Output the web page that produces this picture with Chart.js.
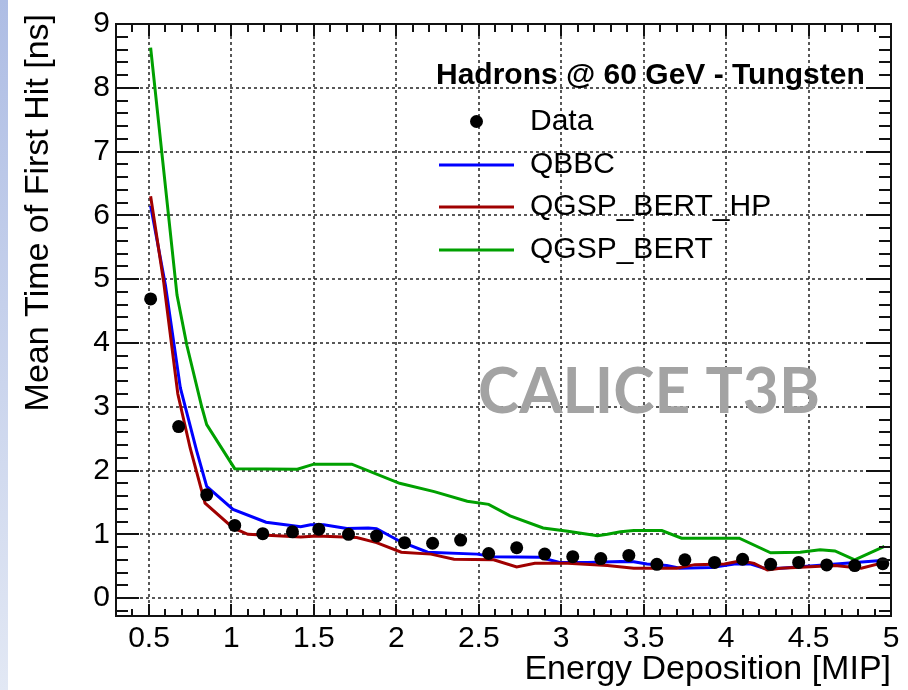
<!DOCTYPE html>
<html>
<head>
<meta charset="utf-8">
<script src="https://cdn.jsdelivr.net/npm/chart.js@4.4.0/dist/chart.umd.min.js"></script>
<style>
  html, body { margin: 0; padding: 0; background: #fff; }
  #wrap { position: relative; width: 908px; height: 690px; overflow: hidden; }
  #strip { position: absolute; left: 0; top: 0; width: 8px; height: 690px;
           background: linear-gradient(#aebde4, #e2e8f4); }
  #plot { position: absolute; left: 0; top: 0; }
</style>
</head>
<body>
<div id="wrap">
  <div id="strip"></div>
  <canvas id="plot" width="908" height="690"></canvas>
</div>
<script>
// Measured data (energy deposition bins in MIP, mean time in ns)
const dataX = [0.51, 0.68, 0.85, 1.02, 1.19, 1.37, 1.53, 1.71, 1.88, 2.05, 2.22, 2.39, 2.56, 2.73,
               2.90, 3.07, 3.24, 3.41, 3.58, 3.75, 3.93, 4.10, 4.27, 4.44, 4.61, 4.78, 4.95];
const dataY = [4.69, 2.69, 1.62, 1.14, 1.01, 1.04, 1.08, 1.00, 0.975, 0.87, 0.86, 0.91, 0.70, 0.79,
               0.69, 0.65, 0.62, 0.67, 0.53, 0.60, 0.56, 0.61, 0.53, 0.56, 0.52, 0.51, 0.54];

// Simulation curves
const qbbcX = [0.51, 0.60, 0.69, 0.79, 0.85, 1.01, 1.21, 1.42, 1.48, 1.56, 1.70, 1.83, 1.88, 2.03,
               2.19, 2.49, 2.59, 2.87, 2.99, 3.16, 3.36, 3.44, 3.52, 3.64, 3.72, 3.91, 4.05, 4.15,
               4.23, 4.33, 4.55, 4.92, 4.97];
const qbbcY = [6.15, 4.90, 3.30, 2.30, 1.75, 1.39, 1.19, 1.12, 1.15, 1.15, 1.09, 1.10, 1.09, 0.88,
               0.72, 0.69, 0.65, 0.64, 0.56, 0.56, 0.575, 0.57, 0.535, 0.51, 0.47, 0.48, 0.535, 0.535,
               0.47, 0.47, 0.51, 0.585, 0.57];

const hpX = [0.51, 0.59, 0.675, 0.75, 0.84, 1.01, 1.10, 1.42, 1.52, 1.76, 1.88, 2.03, 2.21, 2.35,
             2.59, 2.73, 2.84, 3.04, 3.28, 3.44, 3.70, 3.81, 3.99, 4.09, 4.17, 4.25, 4.33, 4.66,
             4.82, 4.96];
const hpY = [6.30, 4.94, 3.20, 2.35, 1.49, 1.10, 1.00, 0.96, 0.975, 0.95, 0.87, 0.72, 0.69, 0.61,
             0.60, 0.49, 0.545, 0.545, 0.51, 0.47, 0.47, 0.525, 0.535, 0.585, 0.545, 0.44, 0.47, 0.51,
             0.47, 0.56];

const bertX = [0.51, 0.67, 0.73, 0.82, 0.85, 1.02, 1.40, 1.50, 1.73, 2.02, 2.23, 2.43, 2.56, 2.69,
               2.89, 3.04, 3.22, 3.28, 3.36, 3.44, 3.61, 3.73, 4.08, 4.27, 4.45, 4.57, 4.66, 4.78, 4.96];
const bertY = [8.63, 4.75, 3.96, 3.00, 2.72, 2.03, 2.02, 2.10, 2.10, 1.80, 1.67, 1.52, 1.47, 1.29,
               1.10, 1.05, 0.98, 1.00, 1.04, 1.06, 1.06, 0.94, 0.94, 0.71, 0.72, 0.76, 0.74, 0.60, 0.81];

// Axis ticks
const xTicks = [0.5, 1, 1.5, 2, 2.5, 3, 3.5, 4, 4.5, 5];
const yTicks = [0, 1, 2, 3, 4, 5, 6, 7, 8, 9];
const xMin = 0.3, xMax = 5.0, yMin = -0.28, yMax = 9.0;

const FONT = '"Liberation Sans", Arial, Helvetica, sans-serif';
const pts = (xs, ys) => xs.map((x, i) => ({ x: x, y: ys[i] }));

const series = [
  { label: 'QBBC', color: '#0000ff' },
  { label: 'QGSP_BERT_HP', color: '#a00000' },
  { label: 'QGSP_BERT', color: '#00a000' }
];

function line(ctx, x1, y1, x2, y2) {
  ctx.beginPath(); ctx.moveTo(x1, y1); ctx.lineTo(x2, y2); ctx.stroke();
}

// ROOT-style frame: dotted grid, ticks on all four sides, watermark and legend
const rootFrame = {
  id: 'rootFrame',
  beforeDatasetsDraw(chart) {
    const { ctx, chartArea: a } = chart;
    const xs = chart.scales.x, ys = chart.scales.y;
    ctx.save();
    ctx.strokeStyle = '#222';
    ctx.lineWidth = 1.5;
    ctx.setLineDash([3, 3]);
    xTicks.forEach(v => { const p = Math.round(xs.getPixelForValue(v)); line(ctx, p, a.top, p, a.bottom); });
    yTicks.forEach(v => {
      if (v > yMax - 0.01) return;
      const p = Math.round(ys.getPixelForValue(v)); line(ctx, a.left, p, a.right, p);
    });
    ctx.setLineDash([]);

    // watermark
    ctx.fillStyle = '#a3a3a3';
    ctx.font = 'bold 64px Lato, "Open Sans", sans-serif';
    ctx.textBaseline = 'alphabetic';
    ctx.textAlign = 'left';
    ctx.fillText('CALICE T3B', 478, 413, 342);
    ctx.restore();
  },
  afterDatasetsDraw(chart) {
    const { ctx, chartArea: a } = chart;
    const xs = chart.scales.x, ys = chart.scales.y;
    ctx.save();
    ctx.strokeStyle = '#111';
    ctx.lineWidth = 2;
    ctx.strokeRect(a.left, a.top, a.right - a.left, a.bottom - a.top);

    for (let i = 3; i <= 50; i++) {
      const p = Math.round(xs.getPixelForValue(i / 10));
      const major = i % 5 === 0;
      line(ctx, p, a.bottom, p, a.bottom - (major ? 12 : 7));
      line(ctx, p, a.top, p, a.top + (major ? 12 : 8));
    }
    for (let i = -1; i <= 45; i++) {
      const v = i / 5;
      if (v < yMin || v > yMax) continue;
      const p = Math.round(ys.getPixelForValue(v));
      const major = i % 5 === 0;
      line(ctx, a.left, p, a.left + (major ? 23 : 12), p);
      line(ctx, a.right, p, a.right - (major ? 25 : 12), p);
    }

    // y axis title, right-aligned to the top of the frame
    ctx.fillStyle = '#000';
    ctx.save();
    ctx.translate(39, 14);
    ctx.rotate(-Math.PI / 2);
    ctx.font = '34px ' + FONT;
    ctx.textAlign = 'right';
    ctx.textBaseline = 'middle';
    ctx.fillText('Mean Time of First Hit [ns]', 0, 0);
    ctx.restore();

    // legend
    ctx.textBaseline = 'middle';
    ctx.textAlign = 'left';
    ctx.font = 'bold 30px ' + FONT;
    ctx.fillText('Hadrons @ 60 GeV - Tungsten', 436, 76);
    ctx.font = '30px ' + FONT;
    ctx.beginPath(); ctx.arc(476.5, 121.5, 6.5, 0, Math.PI * 2); ctx.fill();
    ctx.fillText('Data', 530, 122);
    const rows = [165, 207, 250];
    series.forEach((s, i) => {
      ctx.strokeStyle = s.color;
      ctx.lineWidth = 3;
      line(ctx, 439, rows[i], 514, rows[i]);
      ctx.fillText(s.label, 530, rows[i]);
    });
    ctx.restore();
  }
};

const ctx = document.getElementById('plot').getContext('2d');
new Chart(ctx, {
  type: 'line',
  data: {
    datasets: [
      { label: 'Data', data: pts(dataX, dataY), showLine: false, pointRadius: 6.5,
        pointBackgroundColor: '#000', pointBorderWidth: 0, order: 0 },
      { label: series[0].label, data: pts(qbbcX, qbbcY), borderColor: series[0].color,
        borderWidth: 3, pointRadius: 0, tension: 0, order: 3 },
      { label: series[1].label, data: pts(hpX, hpY), borderColor: series[1].color,
        borderWidth: 3, pointRadius: 0, tension: 0, order: 2 },
      { label: series[2].label, data: pts(bertX, bertY), borderColor: series[2].color,
        borderWidth: 3, pointRadius: 0, tension: 0, order: 1 }
    ]
  },
  options: {
    responsive: false,
    animation: false,
    layout: { padding: { top: 22, right: 17, left: 0, bottom: 0 } },
    plugins: { legend: { display: false }, tooltip: { enabled: false } },
    scales: {
      x: {
        type: 'linear', min: xMin, max: xMax,
        afterBuildTicks: axis => { axis.ticks = xTicks.map(v => ({ value: v })); },
        afterFit: axis => { axis.height = 74; },
        grid: { display: false, drawTicks: false },
        border: { display: false },
        ticks: { color: '#000', padding: 5, maxRotation: 0, autoSkip: false,
                 font: { family: FONT, size: 30 }, callback: v => String(v) },
        title: { display: true, text: 'Energy Deposition [MIP]', align: 'end', color: '#000',
                 padding: { top: 0, bottom: 0 }, font: { family: FONT, size: 34 } }
      },
      y: {
        type: 'linear', min: yMin, max: yMax,
        afterBuildTicks: axis => { axis.ticks = yTicks.map(v => ({ value: v })); },
        afterFit: axis => { axis.width = 116; },
        grid: { display: false, drawTicks: false },
        border: { display: false },
        ticks: { color: '#000', padding: 6, autoSkip: false,
                 font: { family: FONT, size: 30 }, callback: v => String(v) },
        title: { display: false }
      }
    }
  },
  plugins: [rootFrame]
});
</script>
</body>
</html>
